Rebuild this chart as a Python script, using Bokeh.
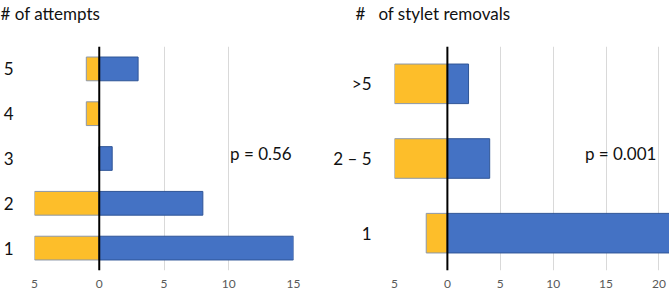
from bokeh.plotting import figure
from bokeh.layouts import row
from bokeh.models import Range1d, FixedTicker, Span, Label, LinearAxis
from bokeh.embed import file_html
from bokeh.resources import INLINE

# ---- data ----
attempts_cats = ["1", "2", "3", "4", "5"]
attempts_blue = [15, 8, 1, 0, 3]
attempts_yellow = [5, 5, 0, 1, 1]
attempts_ticks = [-5, 0, 5, 10, 15]
attempts_p = "p = 0.56"

removals_cats = ["1", "2 \u2013 5", ">5"]
removals_blue = [21, 4, 2]
removals_yellow = [2, 5, 5]
removals_ticks = [-5, 0, 5, 10, 15, 20]
removals_p = "p = 0.001"

BLUE = "#4472C4"
BLUE_EDGE = "#2F5597"
YELLOW = "#FDBE2A"
YELLOW_EDGE = "#8C97A8"
FONT = "Lato"


def panel(title, cats, blue, yellow, ticks, xmax, ptext, px, py,
          width, border_left, border_right, title_offset, label_standoff, label_align):
    n = len(cats)
    pos = list(range(1, n + 1))
    p = figure(width=width, height=291, output_backend="svg", toolbar_location=None,
               x_range=Range1d(-5, xmax), y_range=Range1d(0.5, n + 0.5),
               min_border_left=border_left, min_border_right=border_right,
               min_border_top=45, min_border_bottom=21)
    p.outline_line_color = None
    p.background_fill_color = "white"
    p.border_fill_color = "white"

    # x axis (below)
    xa = p.below[0]
    xa.ticker = FixedTicker(ticks=ticks)
    xa.major_label_overrides = {t: str(abs(t)) for t in ticks}
    xa.axis_line_color = None
    xa.major_tick_line_color = None
    xa.minor_tick_line_color = None
    xa.major_tick_out = 0
    xa.major_label_standoff = 9
    xa.major_label_text_font = FONT
    xa.major_label_text_font_size = "12px"
    xa.major_label_text_color = "#595959"

    # invisible spacer between the title and the plot frame
    spacer = LinearAxis(ticker=FixedTicker(ticks=[0]), major_label_overrides={0: ""},
                        axis_line_color=None,
                        major_tick_line_color=None, minor_tick_line_color=None,
                        major_tick_out=23, major_tick_in=0, minor_tick_out=0,
                        major_label_standoff=0)
    p.add_layout(spacer, "above")

    p.title.text = title
    p.title.align = "left"
    p.title.offset = title_offset
    p.title.text_font = FONT
    p.title.text_font_size = "17px"
    p.title.text_font_style = "normal"
    p.title.text_color = "#111111"
    p.title.standoff = 0

    p.hbar(y=pos, left=[-v for v in yellow], right=[0] * n, height=0.53,
           fill_color=YELLOW, line_color=YELLOW_EDGE, line_width=1)
    p.hbar(y=pos, left=[0] * n, right=blue, height=0.53,
           fill_color=BLUE, line_color=BLUE_EDGE, line_width=1)

    p.add_layout(Span(location=0, dimension="height", line_color="black", line_width=2))

    p.add_layout(Label(x=px, y=py, text=ptext, text_font=FONT, text_font_size="17px",
                       text_baseline="middle", text_color="#111111"))

    # y axis (categories)
    p.yaxis.ticker = FixedTicker(ticks=pos)
    p.yaxis.major_label_overrides = {i: c for i, c in zip(pos, cats)}
    p.yaxis.axis_line_color = None
    p.yaxis.major_tick_line_color = None
    p.yaxis.minor_tick_line_color = None
    p.yaxis.major_tick_out = 0
    p.yaxis.major_label_standoff = label_standoff
    p.yaxis.major_label_text_font = FONT
    p.yaxis.major_label_text_font_size = "17px"
    p.yaxis.major_label_text_color = "#111111"
    p.yaxis.major_label_text_align = label_align

    p.ygrid.grid_line_color = None
    p.xgrid.grid_line_color = "#D9D9D9"
    p.xgrid.grid_line_width = 1
    return p


left = panel("# of attempts", attempts_cats, attempts_blue, attempts_yellow,
             attempts_ticks, 15, attempts_p, 10.1, 3.12,
             326, 34, 33, -34, 21, "right")
right = panel("#\u00a0\u00a0 of stylet removals", removals_cats, removals_blue, removals_yellow,
              removals_ticks, 21, removals_p, 13.0, 2.07,
              343, 68, 0, -39, 23, "center")

layout = row(left, right)
open("out.html", "w").write(file_html(layout, INLINE))
